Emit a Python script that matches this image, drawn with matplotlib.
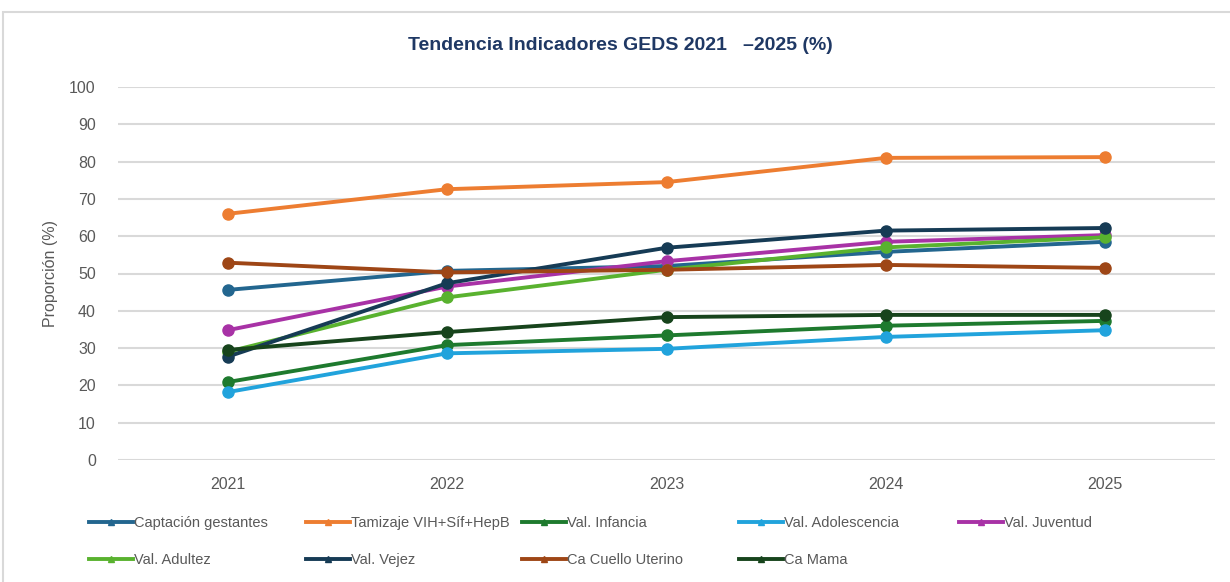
import matplotlib
matplotlib.use("Agg")
import matplotlib.pyplot as plt
from matplotlib import font_manager
from matplotlib.lines import Line2D
from matplotlib.patches import Rectangle

# data
years = ["2021", "2022", "2023", "2024", "2025"]
series_names = [
    "Captación gestantes", "Tamizaje VIH+Síf+HepB", "Val. Infancia",
    "Val. Adolescencia", "Val. Juventud", "Val. Adultez", "Val. Vejez",
    "Ca Cuello Uterino", "Ca Mama",
]
captacion = [45.6, 50.7, 52.0, 55.8, 58.5]
tamizaje = [66.0, 72.6, 74.5, 81.0, 81.2]
infancia = [20.9, 30.8, 33.4, 36.0, 37.3]
adolescencia = [18.2, 28.6, 29.8, 33.0, 34.8]
juventud = [34.8, 46.5, 53.3, 58.5, 60.3]
adultez = [29.0, 43.6, 51.0, 57.0, 59.7]
vejez = [27.7, 47.4, 56.9, 61.5, 62.2]
cuello = [52.9, 50.3, 51.0, 52.3, 51.5]
mama = [29.5, 34.3, 38.3, 38.9, 38.9]

colors = ["#23668F", "#ED7D31", "#1E7A2E", "#21A3DC", "#A832A6",
          "#59B22F", "#163B55", "#9E4616", "#17441C"]

available = {f.name for f in font_manager.fontManager.ttflist}
fam = "Liberation Sans Narrow" if "Liberation Sans Narrow" in available else "Liberation Sans"
plt.rcParams["font.family"] = [fam, "DejaVu Sans"]

fig = plt.figure(figsize=(12.3, 5.82), dpi=100)
fig.patches.append(Rectangle((3 / 1230, -0.01), 1.0, 1 - 12 / 582 + 0.01,
                             transform=fig.transFigure, fill=False,
                             edgecolor="#D9D9D9", linewidth=1.5))

ax = fig.add_axes([118 / 1230, 1 - 460 / 582, (1215 - 118) / 1230, (460 - 87) / 582])

all_values = [captacion, tamizaje, infancia, adolescencia, juventud,
              adultez, vejez, cuello, mama]
x = list(range(len(years)))
handles = []
for name, vals, c in zip(series_names, all_values, colors):
    ax.plot(x, vals, color=c, linewidth=2.8, marker="o", markersize=8,
            clip_on=False, label=name)
    handles.append(Line2D([0], [0], color=c, linewidth=2.8, marker="^",
                          markersize=5))

ax.set_xlim(-0.5, 4.5)
ax.set_ylim(0, 100)
ax.set_yticks(range(0, 101, 10))
ax.set_xticks(x)
ax.set_xticklabels(years)
ax.yaxis.grid(True, color="#D9D9D9", linewidth=1.5)
ax.set_axisbelow(True)
for s in ax.spines.values():
    s.set_visible(False)
ax.tick_params(length=0, colors="#595959", labelsize=11.5)
ax.tick_params(axis="y", pad=16)
ax.tick_params(axis="x", pad=12)
ax.set_ylabel("Proporción (%)", color="#595959", fontsize=11.5, labelpad=8)

fig.text(620 / 1230, 1 - 45 / 582, "Tendencia Indicadores GEDS 2021   –2025 (%)",
         ha="center", va="center", fontsize=14, fontweight="bold", color="#1F3864")

# legend: Excel style, rows filled left to right, fixed column width
col_x = [83, 300, 516, 733, 953]
for ci, cx in enumerate(col_x):
    idx = [i for i in (ci, ci + 5) if i < len(series_names)]
    leg = fig.legend([handles[i] for i in idx], [series_names[i] for i in idx],
                     loc="upper left", bbox_to_anchor=(cx / 1230, 1 - 510 / 582),
                     frameon=False, fontsize=10.5, handlelength=3.0,
                     handletextpad=0.1, labelspacing=1.6, borderaxespad=0,
                     labelcolor="#595959", numpoints=1)

fig.savefig("out.png", dpi=100, facecolor="white")
